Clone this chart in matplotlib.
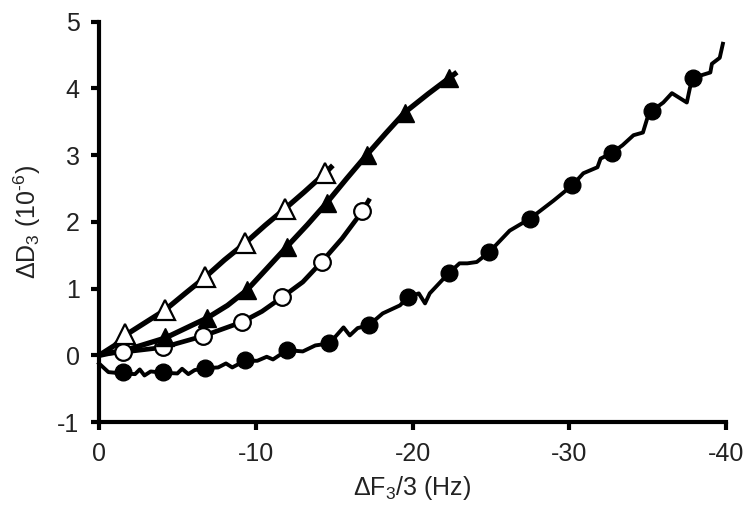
import matplotlib
matplotlib.use('agg')
import matplotlib.pyplot as plt

plt.rcParams['font.family'] = ['Liberation Sans', 'DejaVu Sans']
plt.rcParams['mathtext.fontset'] = 'custom'
plt.rcParams['mathtext.rm'] = 'Liberation Sans'
plt.rcParams['mathtext.it'] = 'Liberation Sans'
plt.rcParams['axes.unicode_minus'] = False

## data (dF3/3 in Hz, dD3 in 1e-6)
# filled circles
fc_line_x = [0, -0.6, -1.5, -2.3, -2.6, -2.9, -3.3, -4.1, -5.0, -5.3, -5.7, -6.1, -6.8, -7.6,
             -8.1, -8.5, -9.3, -10.1, -10.7, -11.1, -12.0, -13.0, -13.8, -14.7, -15.6, -16.0,
             -16.5, -17.2, -18.1, -19.2, -19.7, -20.4, -20.8, -21.1, -21.9, -22.3, -23.0, -23.5,
             -24.1, -24.9, -26.2, -27.5, -29.0, -30.2, -30.9, -31.8, -32.0, -32.7, -33.4, -34.1,
             -34.7, -35.0, -35.3, -36.0, -36.55, -37.5, -37.7, -37.9, -39.0, -39.1, -39.6, -39.8]
fc_line_y = [-0.12, -0.25, -0.27, -0.28, -0.21, -0.3, -0.24, -0.26, -0.27, -0.2, -0.28, -0.22,
             -0.19, -0.18, -0.12, -0.18, -0.08, -0.08, -0.02, -0.06, 0.08, 0.06, 0.15, 0.18,
             0.42, 0.30, 0.41, 0.45, 0.63, 0.75, 0.87, 0.93, 0.78, 0.93, 1.13, 1.23, 1.38, 1.38,
             1.40, 1.55, 1.87, 2.05, 2.32, 2.55, 2.73, 2.82, 2.95, 3.03, 3.15, 3.30,
             3.34, 3.57, 3.67, 3.79, 3.93, 3.79, 4.01, 4.16, 4.24, 4.37, 4.46, 4.67]
fc_x = [-1.53, -4.08, -6.76, -9.31, -12.0, -14.7, -17.2, -19.7, -22.3, -24.9, -27.5, -30.2,
        -32.7, -35.3, -37.9]
fc_y = [-0.25, -0.25, -0.19, -0.07, 0.08, 0.18, 0.45, 0.87, 1.23, 1.55, 2.05, 2.55,
        3.03, 3.67, 4.16]

# open triangles
ot_line_x = [0, -1.0, -1.66, -3.0, -4.21, -5.5, -6.76, -8.0, -9.31, -10.6, -11.87, -13.1, -14.42, -14.8]
ot_line_y = [0.0, 0.15, 0.30, 0.50, 0.68, 0.93, 1.17, 1.43, 1.68, 1.95, 2.20, 2.45, 2.73, 2.82]
ot_x = [-1.66, -4.21, -6.76, -9.31, -11.87, -14.42]
ot_y = [0.32, 0.68, 1.17, 1.68, 2.20, 2.73]

# filled triangles
ft_line_x = [0, -2.0, -4.21, -6.89, -8.2, -9.44, -10.7, -11.99, -13.3, -14.54, -15.8, -17.1,
             -18.3, -19.5, -21.0, -22.3, -22.7]
ft_line_y = [0.0, 0.10, 0.26, 0.56, 0.75, 0.98, 1.30, 1.63, 1.96, 2.29, 2.65, 3.01,
             3.33, 3.64, 3.92, 4.15, 4.22]
ft_x = [-4.21, -6.89, -9.44, -11.99, -14.54, -17.1, -19.5, -22.3]
ft_y = [0.28, 0.56, 0.98, 1.63, 2.29, 3.01, 3.64, 4.15]

# open circles
oc_line_x = [0, -1.53, -4.08, -6.63, -9.12, -10.4, -11.67, -13.0, -14.2, -15.5, -16.8, -17.2]
oc_line_y = [0.02, 0.05, 0.12, 0.29, 0.50, 0.66, 0.87, 1.10, 1.40, 1.75, 2.16, 2.32]
oc_x = [-1.53, -4.08, -6.63, -9.12, -11.67, -14.2, -16.8]
oc_y = [0.05, 0.12, 0.29, 0.50, 0.87, 1.40, 2.16]

fig = plt.figure(figsize=(7.5, 5.18), dpi=100)
ax = fig.add_axes([0.132, 0.185, 0.836, 0.773])

ax.plot(fc_line_x, fc_line_y, color='k', lw=2.8, zorder=2, clip_on=False)
ax.plot(fc_x, fc_y, 'o', color='k', ms=12, zorder=3)

ax.plot(oc_line_x, oc_line_y, color='k', lw=3.4, zorder=2)
ax.plot(oc_x, oc_y, 'o', mfc='white', mec='k', mew=1.6, ms=12, zorder=3)

ax.plot(ft_line_x, ft_line_y, color='k', lw=3.8, zorder=2)
ax.plot(ft_x, ft_y, '^', color='k', ms=13, zorder=3)

ax.plot(ot_line_x, ot_line_y, color='k', lw=3.8, zorder=2)
ax.plot(ot_x, ot_y, '^', mfc='white', mec='k', mew=1.6, ms=14, zorder=3)

ax.set_xlim(0, -40)
ax.set_ylim(-1, 5)
ax.set_xticks([0, -10, -20, -30, -40])
ax.set_yticks([-1, 0, 1, 2, 3, 4, 5])
ax.spines['top'].set_visible(False)
ax.spines['right'].set_visible(False)
for s in ['left', 'bottom']:
    ax.spines[s].set_linewidth(3)
ax.tick_params(direction='out', length=6, width=3, labelsize=18, pad=8, colors='k')
ax.tick_params(axis='both', labelcolor='#222222')

ax.set_xlabel(r'$\Delta$F$_3$/3 (Hz)', fontsize=18, color='#222222', labelpad=6)
ax.set_ylabel(r'$\Delta$D$_3$ (10$^{\text{-6}}$)', fontsize=18, color='#222222', labelpad=10)

plt.savefig('out.png', dpi=100)
